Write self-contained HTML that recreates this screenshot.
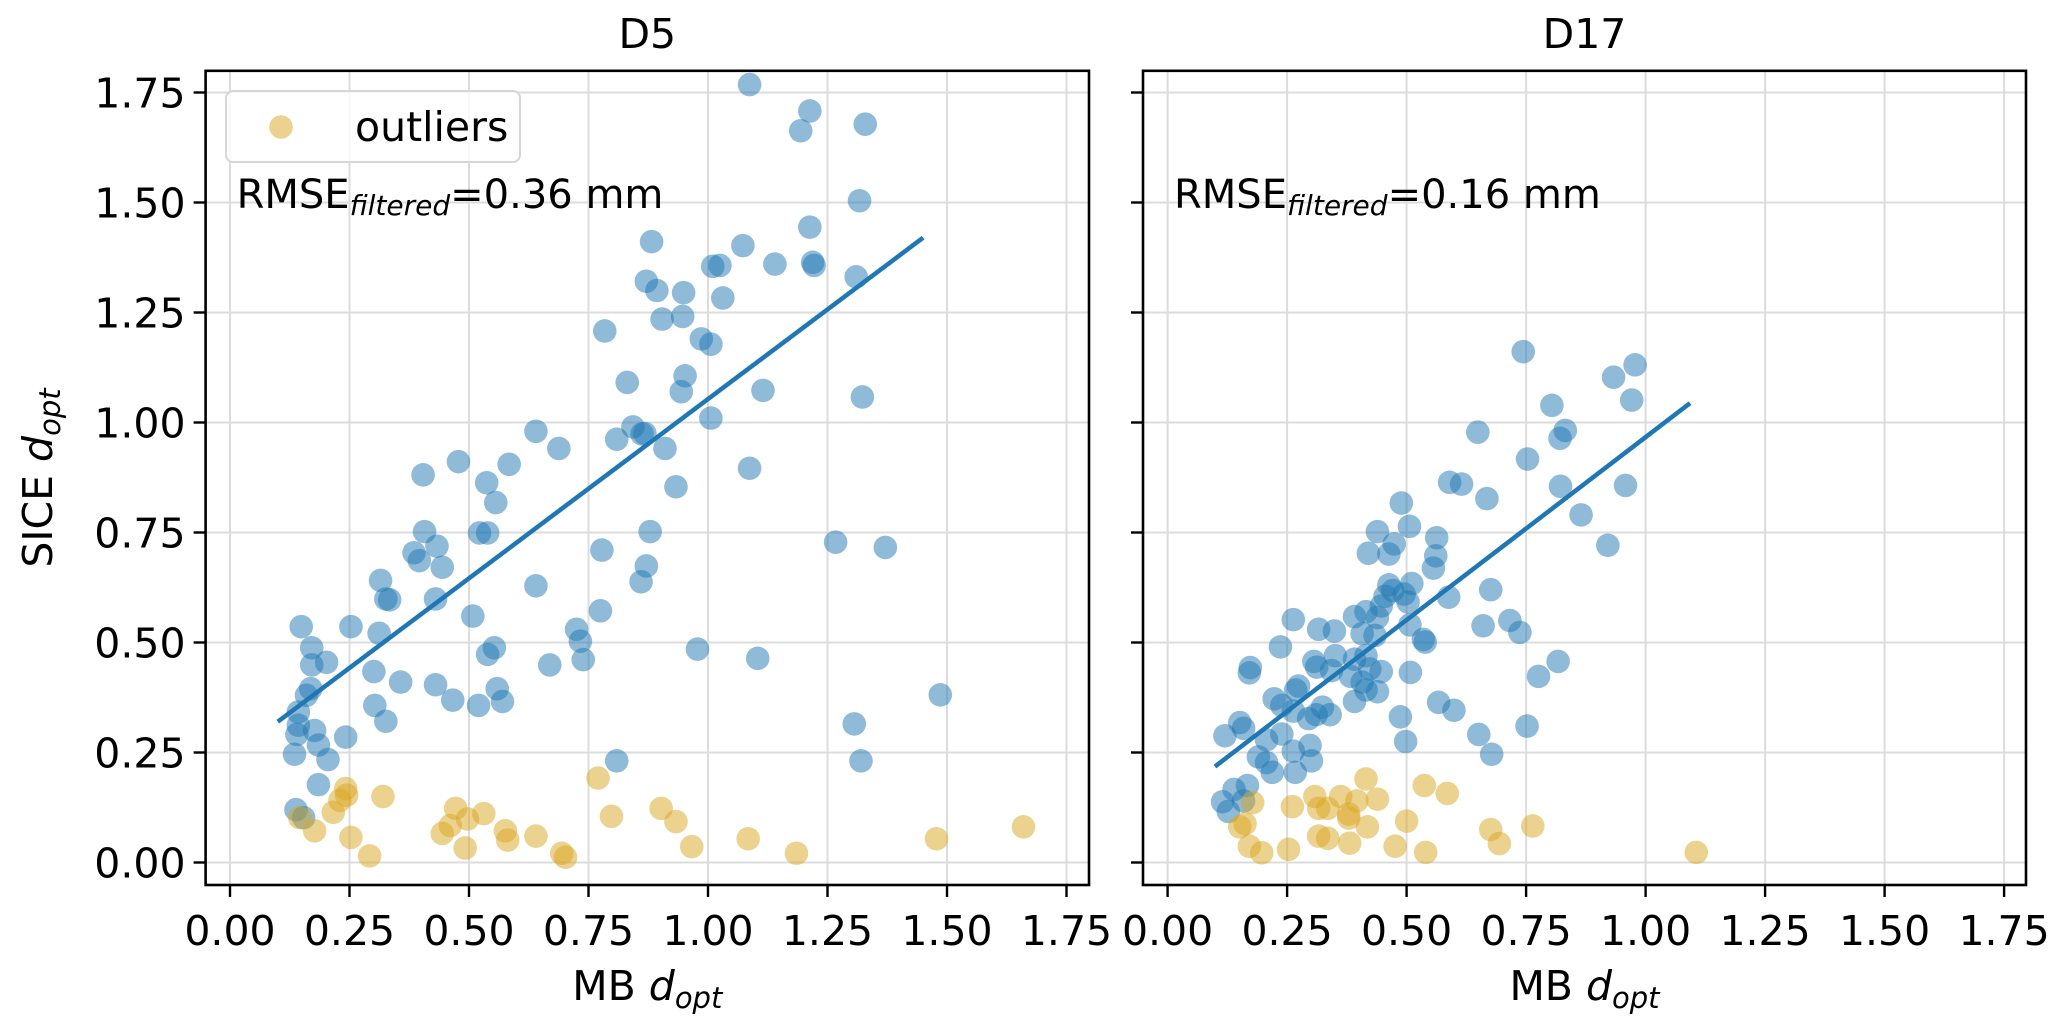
<!DOCTYPE html>
<html><head><meta charset="utf-8"><style>
html,body{margin:0;padding:0;background:#fff;}
svg{display:block;font-family:"DejaVu Sans","Liberation Sans",sans-serif;}
</style></head><body>
<svg id="chart" width="2067" height="1032" viewBox="0 0 2067 1032" xmlns="http://www.w3.org/2000/svg"></svg>
<script>
// ---- data ----
const xTicks = [0, 0.25, 0.5, 0.75, 1.0, 1.25, 1.5, 1.75];
const xTickLabels = ["0.00","0.25","0.50","0.75","1.00","1.25","1.50","1.75"];
const yTicks = [0, 0.25, 0.5, 0.75, 1.0, 1.25, 1.5, 1.75];
const yTickLabels = ["0.00","0.25","0.50","0.75","1.00","1.25","1.50","1.75"];
const panelTitles = ["D5","D17"];
const rmseValues = ["0.36","0.16"];

const d5BlueX = [1.087,1.213,1.194,1.329,1.317,0.882,1.213,1.073,1.219,1.14,1.222,1.025,1.01,1.31,0.871,0.893,0.949,1.031,0.904,0.947,0.784,0.986,1.006,0.952,0.944,1.115,1.323,0.831,1.006,0.843,0.862,0.809,0.868,0.91,0.478,0.584,0.688,0.64,0.404,1.087,0.933,0.537,0.556,0.407,0.522,0.539,0.433,0.385,0.396,0.444,0.778,0.879,0.871,0.86,1.267,1.371,0.64,0.43,0.315,0.326,0.334,0.149,0.253,0.312,0.508,0.725,0.733,0.739,0.775,0.553,0.539,0.171,0.171,0.202,0.978,1.104,0.669,0.169,0.16,0.357,0.43,0.559,0.57,0.466,0.52,0.301,0.303,0.326,0.143,0.143,0.14,0.177,0.185,0.242,0.135,0.205,0.185,1.306,1.32,1.486,0.809,0.138,0.154];
const d5BlueY = [1.768,1.708,1.663,1.678,1.504,1.411,1.444,1.402,1.364,1.36,1.357,1.357,1.355,1.331,1.321,1.30,1.295,1.283,1.235,1.241,1.208,1.19,1.178,1.106,1.07,1.073,1.058,1.091,1.01,0.99,0.974,0.962,0.975,0.941,0.911,0.905,0.941,0.98,0.881,0.896,0.854,0.863,0.818,0.752,0.749,0.749,0.719,0.704,0.686,0.671,0.71,0.752,0.674,0.638,0.728,0.716,0.629,0.599,0.641,0.599,0.597,0.536,0.536,0.521,0.56,0.53,0.503,0.461,0.572,0.488,0.473,0.488,0.449,0.455,0.485,0.464,0.449,0.395,0.38,0.41,0.404,0.395,0.366,0.369,0.357,0.434,0.357,0.321,0.342,0.312,0.291,0.3,0.267,0.285,0.246,0.234,0.177,0.315,0.231,0.381,0.231,0.12,0.102];
const d5OutX = [0.77,0.242,0.244,0.32,0.23,0.216,0.472,0.531,0.497,0.461,0.444,0.576,0.581,0.64,0.798,0.902,0.933,0.966,1.084,1.185,1.478,1.66,0.253,0.177,0.146,0.292,0.492,0.694,0.702];
const d5OutY = [0.192,0.168,0.153,0.15,0.141,0.114,0.123,0.111,0.099,0.084,0.066,0.072,0.051,0.06,0.105,0.123,0.093,0.036,0.054,0.021,0.054,0.081,0.057,0.072,0.102,0.015,0.033,0.021,0.012];
const d5Fit = [[0.10,0.32],[1.45,1.42]];

const d17BlueX = [0.744,0.978,0.933,0.971,0.804,0.832,0.821,0.649,0.753,0.59,0.615,0.668,0.822,0.958,0.865,0.921,0.489,0.506,0.439,0.474,0.42,0.463,0.563,0.561,0.556,0.463,0.471,0.455,0.495,0.511,0.503,0.447,0.588,0.676,0.415,0.391,0.439,0.507,0.263,0.316,0.349,0.407,0.434,0.535,0.539,0.66,0.716,0.737,0.236,0.173,0.171,0.306,0.312,0.351,0.391,0.415,0.423,0.447,0.343,0.383,0.407,0.415,0.439,0.391,0.508,0.817,0.776,0.274,0.268,0.223,0.239,0.263,0.295,0.311,0.34,0.324,0.487,0.567,0.599,0.498,0.651,0.678,0.752,0.151,0.159,0.12,0.207,0.19,0.207,0.219,0.263,0.298,0.301,0.267,0.239,0.167,0.139,0.115,0.127,0.159];
const d17BlueY = [1.161,1.131,1.103,1.051,1.039,0.982,0.964,0.978,0.917,0.864,0.86,0.827,0.855,0.857,0.79,0.721,0.817,0.764,0.752,0.724,0.703,0.701,0.738,0.697,0.669,0.631,0.618,0.605,0.61,0.634,0.592,0.583,0.603,0.62,0.57,0.559,0.557,0.54,0.552,0.53,0.526,0.52,0.516,0.507,0.501,0.538,0.55,0.523,0.49,0.443,0.431,0.457,0.444,0.47,0.462,0.47,0.44,0.434,0.436,0.423,0.41,0.392,0.388,0.366,0.432,0.457,0.423,0.401,0.392,0.372,0.357,0.344,0.327,0.336,0.336,0.353,0.331,0.364,0.346,0.275,0.291,0.246,0.31,0.318,0.305,0.288,0.279,0.24,0.227,0.205,0.253,0.266,0.231,0.205,0.292,0.175,0.166,0.138,0.116,0.14];
const d17OutX = [0.415,0.537,0.585,0.439,0.308,0.362,0.396,0.178,0.261,0.316,0.335,0.379,0.379,0.5,0.162,0.151,0.418,0.676,0.764,0.316,0.335,0.381,0.694,0.171,0.197,0.253,0.476,0.54,1.106];
const d17OutY = [0.19,0.175,0.157,0.144,0.15,0.15,0.14,0.136,0.127,0.123,0.123,0.11,0.101,0.094,0.088,0.081,0.081,0.075,0.083,0.06,0.055,0.044,0.043,0.037,0.022,0.03,0.037,0.023,0.023];
const d17Fit = [[0.099,0.218],[1.093,1.044]];

// ---- layout ----
const NS = "http://www.w3.org/2000/svg";
const svg = document.getElementById('chart');
const PX = 478, PY = 440, Y0 = 862.5;
const panels = [
  {x0:230, left:205.6, right:1089, name:'d5', blueX:d5BlueX, blueY:d5BlueY, outX:d5OutX, outY:d5OutY, fit:d5Fit},
  {x0:1167.6, left:1143, right:2026, name:'d17', blueX:d17BlueX, blueY:d17BlueY, outX:d17OutX, outY:d17OutY, fit:d17Fit}
];
const TOP = 70.8, BOTTOM = 885;
function yS(v){ return Y0 - v*PY; }
function mk(tag, attrs, parent){
  const e = document.createElementNS(NS, tag);
  for (const k in attrs) e.setAttribute(k, attrs[k]);
  (parent||svg).appendChild(e);
  return e;
}

panels.forEach((p, pi) => {
  const xS = v => p.x0 + v*PX;
  const g = mk('g', {});
  
  
  const cp = mk('clipPath', {id:'clip'+pi}, g);
  mk('rect', {x:p.left, y:TOP, width:p.right-p.left, height:BOTTOM-TOP}, cp);
  xTicks.forEach(t => {
    const l = mk('line', {x1:xS(t), x2:xS(t), y1:TOP, y2:BOTTOM, stroke:'#dcdcdc', 'stroke-width':2}, g);
    
    
  });
  yTicks.forEach(t => {
    const l = mk('line', {x1:p.left, x2:p.right, y1:yS(t), y2:yS(t), stroke:'#dcdcdc', 'stroke-width':2}, g);
    
    
  });
  const pts = mk('g', {'clip-path':'url(#clip'+pi+')'}, g);
  p.blueX.forEach((x, i) => {
    const c = mk('circle', {cx:xS(x), cy:yS(p.blueY[i]), r:11.8, fill:'#1f77b4', 'fill-opacity':0.5}, pts);
    
    
  });
  p.outX.forEach((x, i) => {
    const c = mk('circle', {cx:xS(x), cy:yS(p.outY[i]), r:11.8, fill:'#daa520', 'fill-opacity':0.5}, pts);
    
    
  });
  const fl = mk('line', {x1:xS(p.fit[0][0]), y1:yS(p.fit[0][1]), x2:xS(p.fit[1][0]), y2:yS(p.fit[1][1]), stroke:'#1f77b4', 'stroke-width':4.5}, pts);
  
  
  const fr = mk('rect', {x:p.left, y:TOP, width:p.right-p.left, height:BOTTOM-TOP, fill:'none', stroke:'#000', 'stroke-width':2.6}, g);
  
  
  xTicks.forEach((t, i) => {
    mk('line', {x1:xS(t), x2:xS(t), y1:BOTTOM, y2:BOTTOM+12, stroke:'#000', 'stroke-width':2.4}, g);
    const tx = mk('text', {x:xS(t), y:945, 'font-size':41, 'text-anchor':'middle'}, g);
    tx.textContent = xTickLabels[i];
    
    
  });
  yTicks.forEach((t, i) => {
    mk('line', {x1:p.left-12, x2:p.left, y1:yS(t), y2:yS(t), stroke:'#000', 'stroke-width':2.4}, g);
    if (pi === 0) {
      const ty = mk('text', {x:p.left-20, y:yS(t)+15, 'font-size':41, 'text-anchor':'end'}, g);
      ty.textContent = yTickLabels[i];
      
      
    }
  });
  const cx = (p.left + p.right)/2;
  const title = mk('text', {x:cx, y:48, 'font-size':41, 'text-anchor':'middle'}, g);
  title.textContent = panelTitles[pi];
  
  
  const xl = mk('text', {x:cx, y:1000, 'font-size':41, 'text-anchor':'middle'}, g);
  xl.innerHTML = 'MB <tspan font-style="italic">d</tspan><tspan font-style="italic" font-size="29" dy="8">opt</tspan>';
  
  
  const rm = mk('text', {x:p.left+31, y:208, 'font-size':40}, g);
  rm.innerHTML = 'RMSE<tspan font-style="italic" font-size="28" dy="7">filtered</tspan><tspan dy="-7">=' + rmseValues[pi] + ' mm</tspan>';
  
  
});

const yl = mk('text', {x:0, y:0, 'font-size':41, 'text-anchor':'middle', transform:'translate(52,478) rotate(-90)'});
yl.innerHTML = 'SICE <tspan font-style="italic">d</tspan><tspan font-style="italic" font-size="29" dy="8">opt</tspan>';



const lg = mk('g', {});


mk('rect', {x:226, y:91, width:294, height:71, rx:7, fill:'#fff', 'fill-opacity':0.8, stroke:'#d6d6d6', 'stroke-width':2}, lg);
const lm = mk('circle', {cx:281, cy:127, r:11.8, fill:'#daa520', 'fill-opacity':0.5}, lg);


const lt = mk('text', {x:355, y:141, 'font-size':41}, lg);
lt.textContent = 'outliers';


</script>
</body></html>
